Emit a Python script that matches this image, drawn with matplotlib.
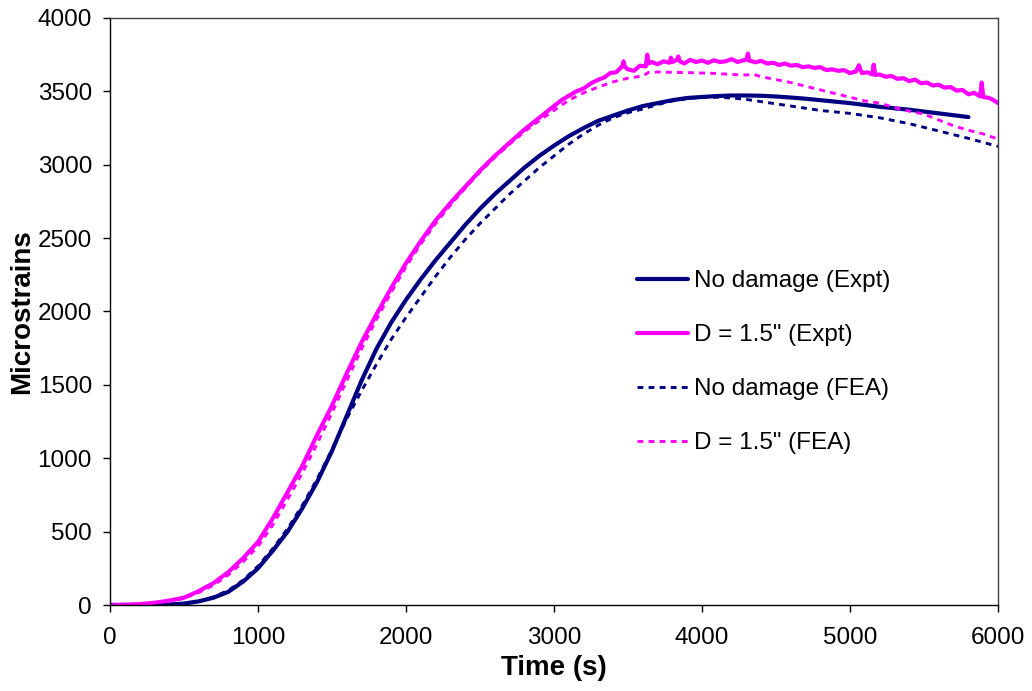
import matplotlib
matplotlib.use("Agg")
import matplotlib.pyplot as plt

plt.rcParams['font.family'] = ['Liberation Sans', 'DejaVu Sans']

# ---------------- data ----------------
t_nd_expt = [0, 300, 400, 500, 600, 700, 800, 900, 1000, 1100, 1200, 1300, 1400, 1500,
             1600, 1700, 1800, 1900, 2000, 2100, 2200, 2300, 2400, 2500, 2600, 2700,
             2800, 2900, 3000, 3100, 3200, 3300, 3400, 3500, 3600, 3700, 3800, 3900,
             4000, 4100, 4200, 4300, 4400, 4500, 4600, 4700, 4800, 4900, 5000, 5200,
             5400, 5600, 5800]
v_nd_expt = [0, 0, 3, 10, 25, 50, 90, 160, 250, 370, 500, 660, 840, 1050,
             1290, 1530, 1745, 1925, 2080, 2220, 2350, 2470, 2590, 2700, 2800, 2890,
             2980, 3060, 3130, 3195, 3250, 3300, 3335, 3370, 3400, 3420, 3440, 3455,
             3462, 3468, 3472, 3472, 3470, 3465, 3458, 3450, 3440, 3430, 3420, 3395,
             3375, 3350, 3325]

t_d_expt = [0, 100, 200, 300, 400, 500, 600, 700, 800, 900, 1000, 1100, 1200, 1300,
            1400, 1500, 1600, 1700, 1800, 1900, 2000, 2100, 2200, 2300, 2400, 2500,
            2600, 2700, 2800, 2900, 3000, 3050, 3100, 3150, 3200, 3250,
            3300, 3340, 3380, 3420, 3460, 3470, 3480, 3500, 3540, 3580, 3620, 3630,
            3640, 3660, 3700, 3740, 3780, 3790, 3800, 3830, 3840, 3850, 3880, 3920,
            3960, 4000, 4040, 4080, 4120, 4160, 4200, 4240, 4280, 4300, 4310, 4320,
            4360, 4400, 4440, 4480, 4520, 4560, 4600, 4640, 4680, 4720, 4760, 4800,
            4840, 4880, 4920, 4960, 5000, 5040, 5060, 5080, 5120, 5150, 5160, 5170,
            5200, 5240, 5280, 5320, 5360, 5400, 5440, 5480, 5520, 5560, 5600, 5640,
            5680, 5720, 5760, 5800, 5840, 5880, 5890, 5900, 5940, 5970, 6000]
v_d_expt = [0, 2, 6, 15, 30, 50, 95, 150, 225, 320, 430, 590, 770, 950,
            1160, 1360, 1580, 1790, 1980, 2160, 2330, 2480, 2620, 2740, 2850, 2960,
            3060, 3150, 3240, 3320, 3400, 3440, 3470, 3500, 3520, 3555,
            3580, 3595, 3625, 3630, 3670, 3705, 3665, 3650, 3640, 3675, 3670, 3750,
            3690, 3700, 3685, 3705, 3695, 3730, 3700, 3715, 3738, 3705, 3690, 3715,
            3700, 3710, 3695, 3712, 3700, 3705, 3720, 3700, 3712, 3715, 3758, 3710,
            3698, 3708, 3690, 3695, 3680, 3690, 3675, 3680, 3665, 3670, 3660, 3665,
            3645, 3650, 3640, 3645, 3625, 3635, 3678, 3625, 3630, 3615, 3682, 3612,
            3615, 3600, 3605, 3585, 3590, 3570, 3580, 3555, 3560, 3540, 3545, 3525,
            3530, 3505, 3510, 3480, 3490, 3465, 3560, 3462, 3455, 3440, 3420]

t_nd_fea = [0, 400, 500, 600, 700, 800, 900, 1000, 1100, 1200, 1300, 1400, 1500, 1600,
            1700, 1800, 1900, 2000, 2100, 2200, 2300, 2400, 2500, 2600, 2700, 2800,
            2900, 3000, 3100, 3200, 3300, 3400, 3500, 3600, 3700, 3800, 3900, 4000,
            4100, 4200, 4300, 4400, 4500, 4600, 4700, 4800, 4900, 5000, 5200, 5400,
            5600, 5800, 6000]
v_nd_fea = [0, 0, 8, 25, 55, 100, 170, 265, 385, 520, 680, 860, 1060, 1270,
            1460, 1640, 1810, 1960, 2100, 2240, 2370, 2490, 2600, 2700, 2800, 2890,
            2980, 3060, 3140, 3210, 3270, 3320, 3355, 3380, 3410, 3435, 3450, 3460,
            3460, 3455, 3445, 3430, 3415, 3400, 3385, 3370, 3360, 3350, 3320, 3280,
            3230, 3180, 3125]

t_d_fea = [0, 200, 300, 400, 500, 600, 700, 800, 900, 1000, 1100, 1200, 1300, 1400,
           1500, 1600, 1700, 1800, 1900, 2000, 2100, 2200, 2300, 2400, 2500, 2600,
           2700, 2800, 2900, 3000, 3100, 3200, 3300, 3400, 3500, 3600, 3640, 3700,
           3800, 3900, 4000, 4100, 4200, 4300, 4350, 4400, 4500, 4600, 4700, 4800,
           4900, 5000, 5100, 5200, 5300, 5400, 5500, 5600, 5700, 5800, 5900, 6000]
v_d_fea = [0, 4, 12, 26, 45, 85, 135, 205, 295, 400, 545, 720, 900, 1100,
           1310, 1530, 1745, 1945, 2130, 2305, 2460, 2600, 2725, 2840, 2950, 3050,
           3140, 3225, 3300, 3370, 3440, 3490, 3530, 3565, 3590, 3605, 3630, 3632,
           3630, 3628, 3625, 3622, 3615, 3612, 3615, 3600, 3580, 3560, 3535, 3510,
           3485, 3460, 3435, 3420, 3390, 3365, 3345, 3305, 3265, 3235, 3210, 3175]

labels = ['No damage (Expt)', 'D = 1.5" (Expt)', 'No damage (FEA)', 'D = 1.5" (FEA)']
x_ticks = [0, 1000, 2000, 3000, 4000, 5000, 6000]
y_ticks = [0, 500, 1000, 1500, 2000, 2500, 3000, 3500, 4000]

NAVY = '#000080'
MAGENTA = '#FF00FF'

fig = plt.figure(figsize=(10.32, 6.91), dpi=100)
ax = fig.add_axes([110/1032, 86/691, 888/1032, 587/691])

ax.plot(t_nd_expt, v_nd_expt, color=NAVY, lw=3.0, solid_capstyle='round',
        solid_joinstyle='round', label=labels[0])
ax.plot(t_d_expt, v_d_expt, color=MAGENTA, lw=3.0, solid_capstyle='round',
        solid_joinstyle='round', label=labels[1])
ax.plot(t_nd_fea, v_nd_fea, color=NAVY, lw=2.1, ls=(0, (2.0, 1.8)), label=labels[2])
ax.plot(t_d_fea, v_d_fea, color=MAGENTA, lw=2.1, ls=(0, (2.0, 1.8)), label=labels[3])

ax.set_xlim(0, 6000)
ax.set_ylim(0, 4000)
ax.set_xticks(x_ticks)
ax.set_yticks(y_ticks)
ax.tick_params(axis='both', direction='out', length=5, width=1, labelsize=17.5,
               top=False, right=False)
ax.tick_params(axis='x', pad=11)
ax.tick_params(axis='y', pad=8)
for s in ax.spines.values():
    s.set_linewidth(1.0)
    s.set_color('black')
ax.spines['top'].set_color('#404040')
ax.spines['right'].set_color('#404040')

ax.set_xlabel('Time (s)', fontsize=20, fontweight='bold', labelpad=4)
ax.set_ylabel('Microstrains', fontsize=20, fontweight='bold', labelpad=2)

leg = ax.legend(loc='upper left', bbox_to_anchor=(637/1032, 1 - 270/691),
                bbox_transform=fig.transFigure, frameon=False, fontsize=17.5,
                handlelength=2.1, handletextpad=0.25, labelspacing=1.32,
                borderaxespad=0, borderpad=0)

fig.savefig('out.png', dpi=100)
